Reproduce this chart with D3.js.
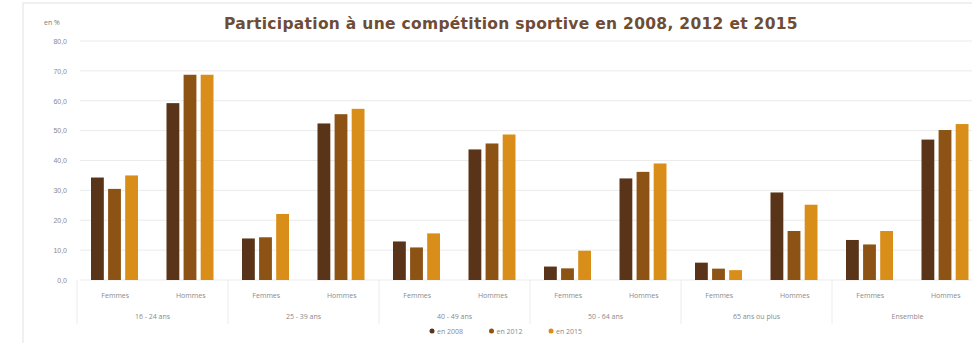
<!DOCTYPE html>
<html>
<head>
<meta charset="utf-8">
<script src="https://cdn.jsdelivr.net/npm/d3@7"></script>
<style>
  body { margin: 0; background: #fff; }
  svg { display: block; font-family: "Open Sans", sans-serif; }
  .tick text { fill: #8a8a8a; font-size: 7px; }
</style>
</head>
<body>
<div id="chart"></div>
<script>
// data
const ageGroups = ["16 - 24 ans", "25 - 39 ans", "40 - 49 ans", "50 - 64 ans", "65 ans ou plus", "Ensemble"];
const sexes = ["Femmes", "Hommes"];
const years = ["en 2008", "en 2012", "en 2015"];
const values2008 = [34.3, 59.2, 13.9, 52.4, 12.9, 43.7, 4.5, 34.0, 5.8, 29.3, 13.4, 47.0];
const values2012 = [30.5, 68.7, 14.3, 55.5, 10.9, 45.7, 3.9, 36.2, 3.8, 16.4, 11.9, 50.2];
const values2015 = [35.0, 68.7, 22.1, 57.3, 15.6, 48.7, 9.8, 39.0, 3.3, 25.2, 16.4, 52.2];
const yTicks = [0, 10, 20, 30, 40, 50, 60, 70, 80];
const colors = ["#5a3418", "#8c5315", "#d98e19"];

const width = 972, height = 343;
const margin = {top: 41, bottom: 63, left: 77};
const yZero = height - margin.bottom; // 280

let svg = d3.select("#chart").append("svg")
    .attr("width", width)
    .attr("height", height);

// panel frame
svg.append("rect")
    .attr("x", 23).attr("y", 3)
    .attr("width", width).attr("height", height)
    .attr("fill", "#fff")
    .attr("stroke", "#e2e2e2");

// scales
let y = d3.scaleLinear().domain([0, 80]).range([yZero, margin.top]);
let x0 = d3.scaleBand().domain(ageGroups).range([margin.left, margin.left + 6 * 151]);
let x1 = d3.scaleBand().domain(sexes).range([0, x0.bandwidth()]);
let x2 = d3.scaleBand().domain(years).range([14, 61]).paddingInner(0.25);

// grid
svg.append("g").selectAll("line")
    .data(yTicks)
    .enter().append("line")
    .attr("x1", 80).attr("x2", width)
    .attr("y1", d => y(d)).attr("y2", d => y(d))
    .attr("stroke", "#ebebeb");

// y axis
let yAxis = d3.axisLeft(y)
    .tickValues(yTicks)
    .tickSize(0)
    .tickPadding(0)
    .tickFormat(d => d3.format(".1f")(d).replace(".", ","));
svg.append("g")
    .attr("transform", "translate(67,0)")
    .call(yAxis)
    .call(g => g.select(".domain").remove());

svg.append("text")
    .attr("x", 44).attr("y", 25)
    .attr("fill", "#7a7a7a")
    .attr("font-size", 7)
    .text("en %");

// title
svg.append("text")
    .attr("x", 511).attr("y", 29)
    .attr("text-anchor", "middle")
    .attr("fill", "#6e4d34")
    .attr("font-family", "DejaVu Sans")
    .attr("font-weight", "bold")
    .attr("font-size", 15.5)
    .attr("letter-spacing", 0.3)
    .text("Participation à une compétition sportive en 2008, 2012 et 2015");

// bars
let rows = [];
ageGroups.forEach((a, i) => {
    sexes.forEach((s, j) => {
        let k = i * 2 + j;
        rows.push({age: a, sex: s, vals: [values2008[k], values2012[k], values2015[k]]});
    });
});

let groups = svg.append("g").selectAll("g")
    .data(rows)
    .enter().append("g")
    .attr("transform", d => `translate(${x0(d.age) + x1(d.sex)},0)`);

groups.selectAll("rect")
    .data(d => d.vals.map((v, i) => ({year: years[i], v: v, c: colors[i]})))
    .enter().append("rect")
    .attr("x", d => x2(d.year))
    .attr("width", x2.bandwidth())
    .attr("y", d => y(d.v))
    .attr("height", d => yZero - y(d.v))
    .attr("fill", d => d.c);

groups.append("text")
    .attr("x", x1.bandwidth() / 2 + 0.5)
    .attr("y", 298)
    .attr("text-anchor", "middle")
    .attr("fill", "#8a8a8a")
    .attr("font-size", 7)
    .text(d => d.sex);

// age group labels and dividers
svg.append("g").selectAll("line")
    .data(ageGroups)
    .enter().append("line")
    .attr("x1", d => x0(d)).attr("x2", d => x0(d))
    .attr("y1", yZero).attr("y2", 324)
    .attr("stroke", "#ececec");

svg.append("g").selectAll("text")
    .data(ageGroups)
    .enter().append("text")
    .attr("x", d => x0(d) + x0.bandwidth() / 2)
    .attr("y", 319)
    .attr("text-anchor", "middle")
    .attr("fill", "#8a8a8a")
    .attr("font-size", 7)
    .text(d => d);

// legend
let legend = svg.append("g").selectAll("g")
    .data(years)
    .enter().append("g")
    .attr("transform", (d, i) => `translate(${432 + i * 59.5},331)`);

legend.append("circle")
    .attr("r", 2.5)
    .attr("fill", (d, i) => colors[i]);

legend.append("text")
    .attr("x", 5).attr("y", 2.5)
    .attr("fill", "#8a8a8a")
    .attr("font-size", 7)
    .text(d => d);
</script>
</body>
</html>
